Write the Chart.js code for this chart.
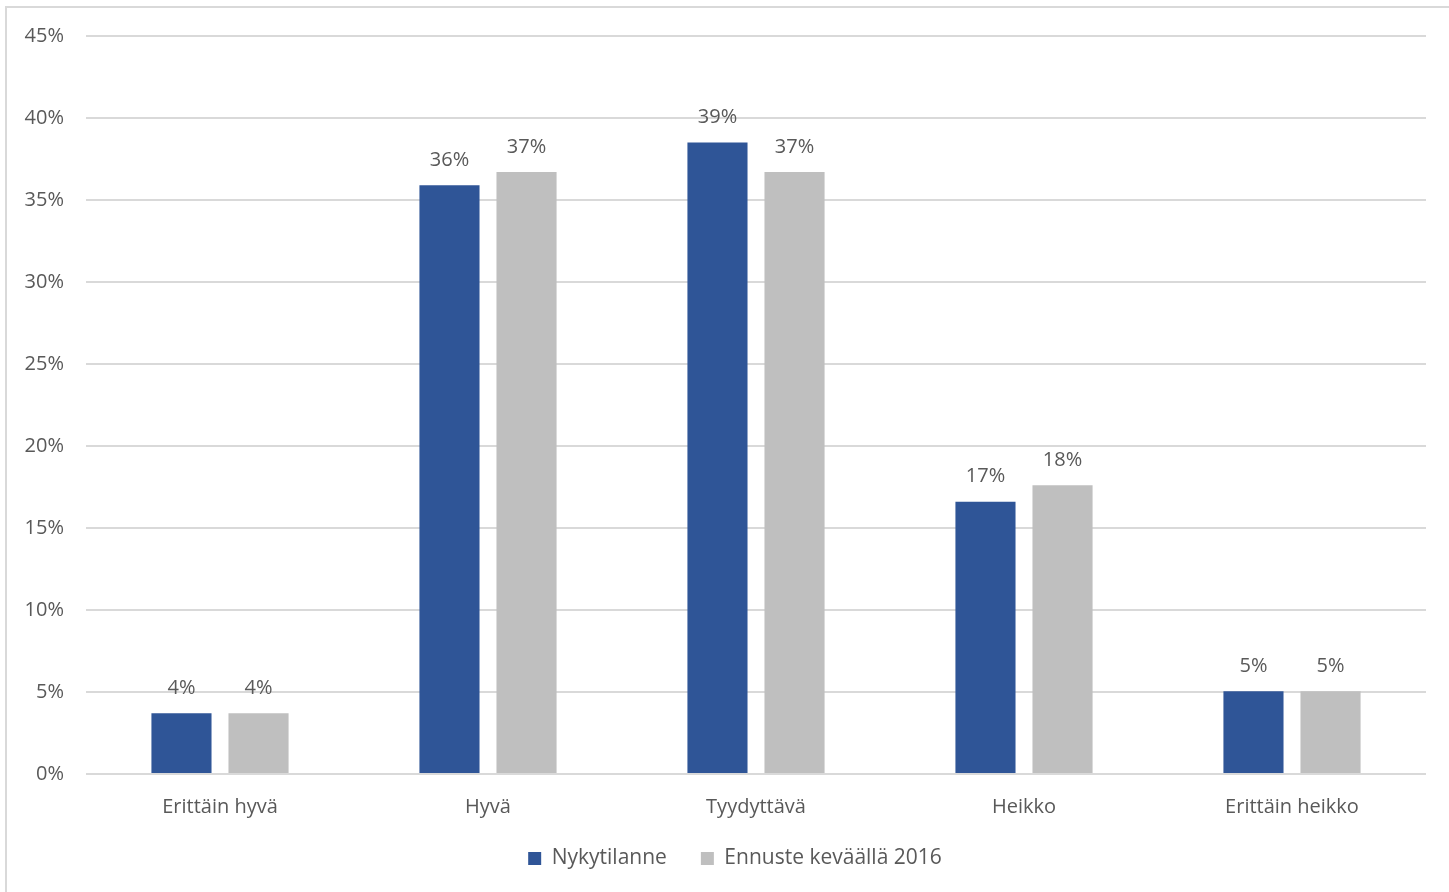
<!DOCTYPE html>
<html>
<head>
<meta charset="utf-8">
<script src="https://cdn.jsdelivr.net/npm/chart.js@4/dist/chart.umd.min.js"></script>
<style>
  html, body { margin: 0; padding: 0; background: #ffffff; }
  #wrap { position: relative; width: 1449px; height: 892px; overflow: hidden; }
  #frame { position: absolute; left: 5px; top: 6px; width: 1460px; height: 900px; border: 2px solid #d9d9d9; box-sizing: border-box; }
  canvas { position: absolute; left: 0; top: 0; }
</style>
</head>
<body>
<div id="wrap">
  <div id="frame"></div>
  <canvas id="c" width="1449" height="892"></canvas>
</div>
<script>
const categories = ["Erittäin hyvä", "Hyvä", "Tyydyttävä", "Heikko", "Erittäin heikko"];
const seriesNames = ["Nykytilanne", "Ennuste keväällä 2016"];
const nykytilanne = [3.7, 35.9, 38.5, 16.6, 5.05];
const ennuste = [3.7, 36.7, 36.7, 17.6, 5.05];
const yTicks = [0, 5, 10, 15, 20, 25, 30, 35, 40, 45];

const FONT = "'Open Sans', sans-serif";
const TEXT = '#595959';

const labelPlugin = {
  id: 'barLabels',
  afterDatasetsDraw(chart) {
    const ctx = chart.ctx;
    ctx.save();
    ctx.font = "20px " + FONT;
    ctx.fillStyle = TEXT;
    ctx.textAlign = 'center';
    ctx.textBaseline = 'middle';
    chart.data.datasets.forEach((ds, i) => {
      const meta = chart.getDatasetMeta(i);
      meta.data.forEach((el, j) => {
        ctx.fillText(Math.round(ds.data[j]) + '%', el.x, el.y - 25);
      });
    });
    ctx.restore();
  }
};

const legendShift = {
  id: 'legendShift',
  afterLayout(chart) {
    const lg = chart.legend;
    if (lg) {
      lg.left += 22;
      lg.right += 22;
      lg.top -= 13;
      lg.bottom -= 13;
    }
  }
};

new Chart(document.getElementById('c'), {
  type: 'bar',
  data: {
    labels: categories,
    datasets: [
      { label: seriesNames[0], data: nykytilanne, backgroundColor: '#2F5597', categoryPercentage: 0.575, barPercentage: 0.78 },
      { label: seriesNames[1], data: ennuste, backgroundColor: '#BFBFBF', categoryPercentage: 0.575, barPercentage: 0.78 }
    ]
  },
  options: {
    responsive: false,
    animation: false,
    layout: { padding: { left: 0, right: 23, top: 36, bottom: 0 } },
    plugins: {
      tooltip: { enabled: false },
      legend: {
        position: 'bottom',
        labels: {
          font: { family: FONT, size: 21 },
          color: TEXT,
          boxWidth: 13,
          boxHeight: 13,
          padding: 34
        }
      }
    },
    scales: {
      x: {
        grid: { display: false },
        border: { display: false },
        ticks: { font: { family: FONT, size: 20 }, color: TEXT, padding: 13, maxRotation: 0 },
        afterFit(scale) { scale.height = 53; }
      },
      y: {
        min: 0, max: 45,
        afterBuildTicks(scale) { scale.ticks = yTicks.map(v => ({ value: v })); },
        grid: { color: '#d9d9d9', lineWidth: 2, drawTicks: false },
        border: { display: false },
        ticks: { font: { family: FONT, size: 20 }, color: TEXT, padding: 22, callback: v => v + '%' },
        afterFit(scale) { scale.width = 86; }
      }
    }
  },
  plugins: [labelPlugin, legendShift]
});
</script>
</body>
</html>
